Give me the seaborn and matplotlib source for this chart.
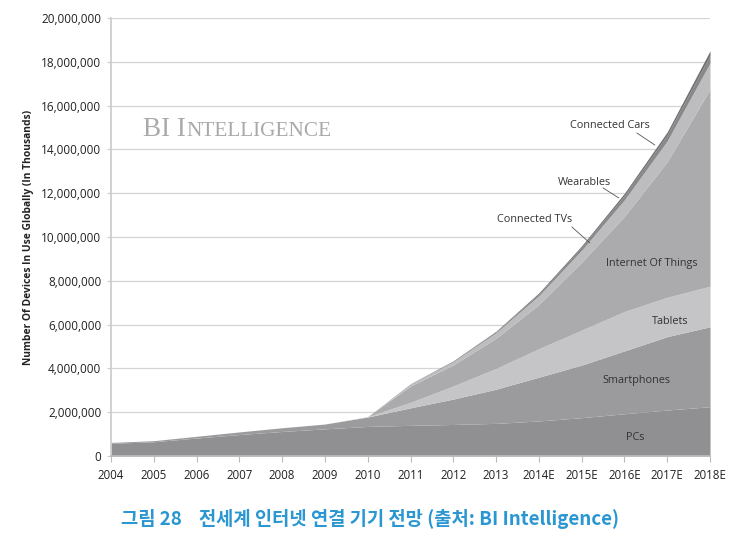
import matplotlib
matplotlib.use("Agg")
import matplotlib.pyplot as plt
import seaborn as sns
import numpy as np

# ---- data (thousands of devices) ----
years = ["2004", "2005", "2006", "2007", "2008", "2009", "2010", "2011",
         "2012", "2013", "2014E", "2015E", "2016E", "2017E", "2018E"]
pcs = [580000, 650000, 820000, 980000, 1120000, 1240000, 1350000, 1400000,
       1440000, 1490000, 1600000, 1750000, 1930000, 2100000, 2250000]
smartphones = [40000, 50000, 80000, 120000, 170000, 220000, 430000, 800000,
               1160000, 1560000, 2000000, 2400000, 2870000, 3350000, 3650000]
tablets = [0, 0, 0, 0, 0, 0, 20000, 250000,
           600000, 950000, 1300000, 1600000, 1800000, 1800000, 1850000]
iot = [0, 0, 0, 0, 0, 0, 0, 750000,
       960000, 1380000, 2020000, 3100000, 4350000, 6190000, 9000000]
connected_tvs = [0, 0, 0, 0, 0, 0, 0, 80000,
                 150000, 250000, 400000, 550000, 750000, 950000, 1200000]
wearables = [0, 0, 0, 0, 0, 0, 0, 10000,
             20000, 40000, 80000, 130000, 200000, 280000, 350000]
connected_cars = [0, 0, 0, 0, 0, 0, 0, 10000,
                  20000, 30000, 50000, 70000, 100000, 130000, 200000]

series_names = ["PCs", "Smartphones", "Tablets", "Internet Of Things",
                "Connected TVs", "Wearables", "Connected Cars"]
colors = ["#909092", "#9b9b9d", "#c5c5c7", "#ababad", "#bdbdbf", "#88888a", "#707072"]

sns.set_theme(style="white")
plt.rcParams['font.family'] = ['Open Sans', 'DejaVu Sans']

fig = plt.figure(figsize=(7.36, 5.45), dpi=100)
ax = fig.add_axes([0.1508, 0.1633, 0.8139, 0.8037])

x = np.arange(len(years))
ax.stackplot(x, pcs, smartphones, tablets, iot, connected_tvs, wearables,
             connected_cars, colors=colors, linewidth=0)

ax.set_xlim(0, len(years) - 1)
ax.set_ylim(0, 20000000)
ax.set_yticks(np.arange(0, 20000001, 2000000))
ax.set_yticklabels([f"{v:,}" for v in range(0, 20000001, 2000000)], fontsize=8.5, color="#222222")
ax.set_xticks(x)
ax.set_xticklabels(years, fontsize=8.3, color="#222222")
ax.yaxis.grid(True, color="#d4d4d4", linewidth=0.9)
ax.set_axisbelow(True)
for s in ["top", "right"]:
    ax.spines[s].set_visible(False)
ax.spines["left"].set_color("#cccccc")
ax.spines["bottom"].set_color("#bbbbbb")
ax.tick_params(axis="x", which="major", length=4, color="#bbbbbb", width=0.8, pad=5, bottom=True)
ax.tick_params(axis="y", which="major", length=3, color="#cccccc", width=0.8, pad=4, left=True)

ax.set_ylabel("Number Of Devices In Use Globally (In Thousands)", fontsize=7.4,
              fontweight="bold", color="#222222", labelpad=5)

# in-chart labels
lab_kw = dict(fontsize=7.8, color="#333333", ha="center", va="center")
ax.text(11.66, 15070000, "Connected Cars", **lab_kw)
ax.text(11.07, 12490000, "Wearables", **lab_kw)
ax.text(9.91, 10780000, "Connected TVs", **lab_kw)
ax.text(12.64, 8790000, "Internet Of Things", **lab_kw)
ax.text(13.06, 6160000, "Tablets", **lab_kw)
ax.text(12.29, 3470000, "Smartphones", **lab_kw)
ax.text(12.25, 845000, "PCs", **lab_kw)
line_kw = dict(color="#555555", linewidth=0.6)
ax.plot([12.29, 12.71], [14750000, 14200000], **line_kw)
ax.plot([11.50, 11.87], [12240000, 11780000], **line_kw)
ax.plot([10.77, 11.19], [10460000, 9730000], **line_kw)

# watermark (small caps)
fig.canvas.draw()
wm_kw = dict(family=["Liberation Serif", "DejaVu Serif"], color="#a9a9a9",
             va="baseline", transform=ax.transAxes)
t1 = ax.text(0.053, 0.7306, "BI I", fontsize=19.5, **wm_kw)
fig.canvas.draw()
bb = t1.get_window_extent()
xa = ax.transAxes.inverted().transform((bb.x1 + 1, bb.y0))[0]
ax.text(xa, 0.7306, "NTELLIGENCE", fontsize=15.3, **wm_kw)

# caption
fig.text(0.503, 0.048, "그림 28    전세계 인터넷 연결 기기 전망 (출처: BI Intelligence)",
         ha="center", va="center", fontsize=13.5, fontweight="bold", color="#2a97d2",
         family=["Noto Sans CJK KR", "DejaVu Sans"])

fig.savefig("out.png", dpi=100)
